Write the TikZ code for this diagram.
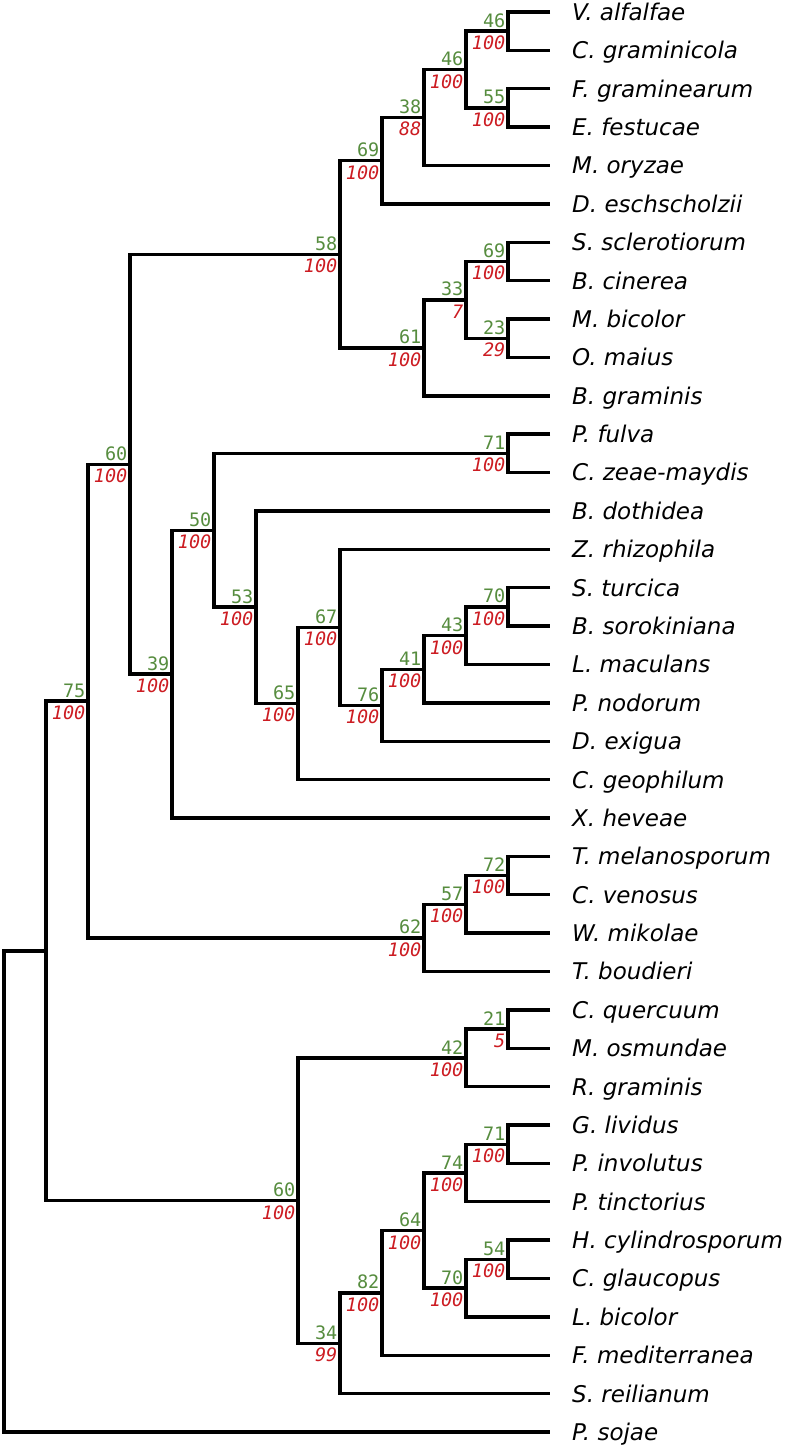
\documentclass[tikz,border=0pt]{standalone}
\usepackage{fontspec}
\usepackage{tikz}
\usetikzlibrary{calc}
\newfontfamily\taxfont{DejaVu Sans}[ItalicFont={DejaVu Sans Oblique}]
\newfontfamily\suppfont{DejaVu Sans Mono}[ItalicFont={DejaVu Sans Mono Oblique}]
\definecolor{bsgreen}{RGB}{86,140,62}
\definecolor{ppred}{RGB}{204,28,34}
\newcommand{\clade}[7]{%
  \coordinate (#1) at (#2,#3);
  \draw[branch] (#4) -| (#1) |- (#5);
  \node[bsup] (b#1) at (#1) {#6};
  \node[ppsup] (p#1) at (#1) {#7};}

\begin{document}
\begin{tikzpicture}[x=1pt,y=-1pt,
  branch/.style={line width=3.4pt,black},
  taxon/.style={anchor=base west,inner sep=0pt,font=\taxfont\fontsize{23}{27}\selectfont\itshape},
  bsup/.style={anchor=south east,inner sep=0pt,xshift=-2.5pt,yshift=3.5pt,text=bsgreen,font=\suppfont\fontsize{18.5}{22}\selectfont},
  ppsup/.style={anchor=north east,inner sep=0pt,xshift=-2.5pt,yshift=-4.5pt,text=ppred,font=\suppfont\fontsize{18.5}{22}\selectfont\itshape}]
  \useasboundingbox (0,0) rectangle (789,1446);
  \foreach \name [count=\i from 0] in {V. alfalfae, C. graminicola, F. graminearum,
      E. festucae, M. oryzae, D. eschscholzii, S. sclerotiorum, B. cinerea,
      M. bicolor, O. maius, B. graminis, P. fulva, C. zeae-maydis, B. dothidea,
      Z. rhizophila, S. turcica, B. sorokiniana, L. maculans, P. nodorum,
      D. exigua, C. geophilum, X. heveae, T. melanosporum, C. venosus,
      W. mikolae, T. boudieri, C. quercuum, M. osmundae, R. graminis,
      G. lividus, P. involutus, P. tinctorius, H. cylindrosporum, C. glaucopus,
      L. bicolor, F. mediterranea, S. reilianum, P. sojae} {
    \coordinate (l\i) at (550,{12+38.38*\i});
    \node[taxon] (t\i) at (572,{20.4+38.38*\i}) {\name};
  }
  \clade{c46a}{508}{31.19}{l0}{l1}{46}{100}
  \clade{c55}{508}{107.95}{l2}{l3}{55}{100}
  \clade{c46b}{466}{69.57}{c46a}{c55}{46}{100}
  \clade{c38}{424}{117.55}{c46b}{l4}{38}{88}
  \clade{c69a}{382}{160.72}{c38}{l5}{69}{100}
  \clade{c69b}{508}{261.47}{l6}{l7}{69}{100}
  \clade{c23}{508}{338.23}{l8}{l9}{23}{29}
  \clade{c33}{466}{299.85}{c69b}{c23}{33}{7}
  \clade{c61}{424}{347.83}{c33}{l10}{61}{100}
  \clade{c58}{340}{254.27}{c69a}{c61}{58}{100}
  \clade{c71a}{508}{453.37}{l11}{l12}{71}{100}
  \clade{c70a}{508}{606.89}{l15}{l16}{70}{100}
  \clade{c43}{466}{635.68}{c70a}{l17}{43}{100}
  \clade{c41}{424}{669.26}{c43}{l18}{41}{100}
  \clade{c76}{382}{705.24}{c41}{l19}{76}{100}
  \clade{c67}{340}{627.28}{l14}{c76}{67}{100}
  \clade{c65}{298}{703.44}{c67}{l20}{65}{100}
  \clade{c53}{256}{607.19}{l13}{c65}{53}{100}
  \clade{c50}{214}{530.28}{c71a}{c53}{50}{100}
  \clade{c39}{172}{674.13}{c50}{l21}{39}{100}
  \clade{c60a}{130}{464.20}{c58}{c39}{60}{100}
  \clade{c72}{508}{875.55}{l22}{l23}{72}{100}
  \clade{c57}{466}{904.34}{c72}{l24}{57}{100}
  \clade{c62}{424}{937.92}{c57}{l25}{62}{100}
  \clade{c75}{88}{701.06}{c60a}{c62}{75}{100}
  \clade{c21}{508}{1029.07}{l26}{l27}{21}{5}
  \clade{c42}{466}{1057.86}{c21}{l28}{42}{100}
  \clade{c71b}{508}{1144.21}{l29}{l30}{71}{100}
  \clade{c74}{466}{1173.00}{c71b}{l31}{74}{100}
  \clade{c54}{508}{1259.35}{l32}{l33}{54}{100}
  \clade{c70b}{466}{1288.14}{c54}{l34}{70}{100}
  \clade{c64}{424}{1230.57}{c74}{c70b}{64}{100}
  \clade{c82}{382}{1292.94}{c64}{l35}{82}{100}
  \clade{c34}{340}{1343.31}{c82}{l36}{34}{99}
  \clade{c60b}{298}{1200.59}{c42}{c34}{60}{100}
  \coordinate (cin) at (46,950.82);
  \draw[branch] (c75) -| (cin) |- (c60b);
  \coordinate (croot) at (4,1191.44);
  \draw[branch] (cin) -| (croot) |- (l37);
\end{tikzpicture}
\end{document}
